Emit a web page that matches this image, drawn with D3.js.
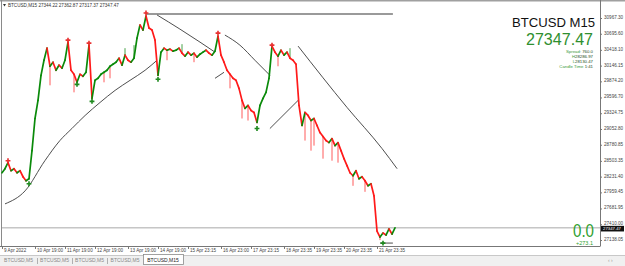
<!DOCTYPE html>
<html>
<head>
<meta charset="utf-8">
<script src="https://cdn.jsdelivr.net/npm/d3@7/dist/d3.min.js"></script>
<style>
html, body { margin: 0; padding: 0; background: #fff; }
svg { display: block; font-family: "Liberation Sans", Arial, sans-serif; }
</style>
</head>
<body>
<div id="canvas_btc"></div>
<script>
// ----------------------------------------------------------
// DATA -----------------------------------------------------
// ----------------------------------------------------------
// close prices, one per bar (bar index = position in array)
var close_btc = [
28298,28368,28472,28333,28368,28298,28333,28229,28160,28194,
28679,29234,29546,29979,30239,30447,30135,30205,30066,30153,
30101,30239,30551,30066,29997,29858,29997,29962,30031,30499,
29581,29893,29927,29997,30031,30066,30135,30170,30205,30274,
30153,30326,30239,30205,30274,30620,30846,30759,31002,30794,
30759,30586,29979,30378,30447,30412,30430,30395,30412,30447,
30361,30309,30378,30326,30361,30291,30343,30378,30412,30361,
30326,30395,30655,30326,30205,30066,29997,29927,29893,29754,
29546,29407,29459,29373,29338,29165,29459,29581,29685,29927,
30482,30378,30309,30412,30326,30378,30274,30239,30170,29459,
29113,29338,29286,29199,29234,29113,28991,28922,28853,28818,
28887,28766,28818,28679,28541,28420,28298,28246,28333,28194,
28229,28160,28073,28108,27900,27293,27189,27258,27224,27328,
27241,27347.47
];
var last_price_btc = 27347.47;

// wick extremes [bar index, price]
var wicks_btc = [
[16,29806],[24,29685],[34,29858],[36,29927],[41,30447],[44,30499],[55,30239],[60,30516],
[64,30205],[76,29754],[80,29234],[82,29199],[92,30135],[96,30447],[101,28853],[103,28679],
[104,28766],[107,28541],[110,28506],[112,28472],[117,28073],[121,27969],[126,27136]
];

// fractal markers [bar index, price]
var fractal_up_btc = [[2,28506],[22,30586],[29,30534],[48,31054],[72,30707],[90,30499]];
var fractal_down_btc = [[9,28108],[25,29823],[30,29529],[52,29910],[85,29061],[127,27085]];

// indicator line pieces [bar index, price]
var lines_btc = [
[[1,27761],[7.7,27986],[14.3,28506],[19.3,28853],[23.3,29061],[27.7,29286],[32.7,29511],[37.7,29719],[42.7,29893],[47.7,30066],[51.7,30239]],
[[51.7,31019],[59.3,30776],[66,30551],[71,30378]],
[[71,29927],[74,30031]],
[[74.3,30673],[79.3,30499],[84.3,30239],[89.3,29979]],
[[89.3,29061],[98.7,29546]],
[[98.7,30482],[115,29425],[126.7,28714],[131.7,28368]],
[[126,27085],[130.3,27085]]
];
var level_line_btc = [[48,31036],[130.3,31036]];

// axis ticks
var price_ticks_btc = [30967.30,30695.60,30418.10,30146.15,29874.20,29596.70,29324.75,29052.80,
28780.85,28503.35,28231.40,27959.45,27681.95,27410.00,27138.05];
var time_tick_index_btc = [0,11,21,31,42,52,62,73,83,94,104,114,125];
var time_tick_labels_btc = ["9 Apr 2022","10 Apr 19:00","11 Apr 19:00","12 Apr 19:00","13 Apr 19:00",
"14 Apr 19:00","15 Apr 23:15","16 Apr 23:00","17 Apr 23:15","18 Apr 23:35","19 Apr 23:35",
"20 Apr 23:35","21 Apr 23:35"];

// tabs
var tabs_btc = ["BTCUSD,M5","BTCUSD,M5","BTCUSD,M5","BTCUSD,M5","BTCUSD,M15"];

// ----------------------------------------------------------
// STRUCTURE ------------------------------------------------
// ----------------------------------------------------------
var W = 625, H = 266;
var plot_right = 600, plot_bottom = 246;

var svg_btc = d3.select("#canvas_btc").append("svg")
.attr("width", W)
.attr("height", H);

var xScale_btc = d3.scaleLinear()
.domain([0, close_btc.length - 1])
.range([2, 395]);

var yScale_btc = d3.scaleLinear()
.domain([27138.05, 30967.30])
.range([240, 18]);

// background, frame
svg_btc.append("rect").attr("width", W).attr("height", H).style("fill", "#fff");
svg_btc.append("rect")
.attr("x", 0).attr("y", 0).attr("width", W).attr("height", 1.5)
.style("fill", "#a0a0a0");
svg_btc.append("line")
.attr("x1", 1.5).attr("x2", 1.5).attr("y1", 0).attr("y2", plot_bottom)
.style("stroke", "#8a8a8a");

// ----------------------------------------------------------
// AXES -----------------------------------------------------
// ----------------------------------------------------------
var yAxis_btc = svg_btc.append("g")
.attr("transform", "translate(" + plot_right + ",0)")
.call(d3.axisRight(yScale_btc)
.tickValues(price_ticks_btc)
.tickSize(2)
.tickFormat(d3.format(".2f")));
yAxis_btc.select(".domain").attr("d", "M0.5,0V" + plot_bottom).style("stroke", "#777");
yAxis_btc.selectAll(".tick line").style("stroke", "#777");
yAxis_btc.selectAll(".tick text")
.attr("x", 4)
.attr("dy", "0.1em")
.style("font-size", "4.6px")
.style("fill", "#444");

var xAxis_btc = svg_btc.append("g")
.attr("transform", "translate(0," + plot_bottom + ")")
.call(d3.axisBottom(xScale_btc)
.tickValues(time_tick_index_btc)
.tickSize(3)
.tickFormat(function(d, i) { return time_tick_labels_btc[i]; }));
xAxis_btc.select(".domain").attr("d", "M0,0.5H" + (plot_right + 0.5)).style("stroke", "#777");
xAxis_btc.selectAll(".tick line").style("stroke", "#777");
xAxis_btc.selectAll(".tick text")
.attr("y", 3)
.attr("x", 1.5)
.attr("text-anchor", "start")
.style("font-size", "4.6px")
.style("fill", "#444");

// ----------------------------------------------------------
// GFX ------------------------------------------------------
// ----------------------------------------------------------
var gfx_btc = svg_btc.append("g").attr("class", "gfx");

// current price line
gfx_btc.append("line")
.attr("x1", 2).attr("x2", plot_right)
.attr("y1", yScale_btc(last_price_btc)).attr("y2", yScale_btc(last_price_btc))
.style("stroke", "#a8a8a8").style("stroke-width", 1);

// level line on top
gfx_btc.append("path")
.datum(level_line_btc)
.attr("d", d3.line()
.x(function(d) { return xScale_btc(d[0]); })
.y(function(d) { return yScale_btc(d[1]); }))
.style("fill", "none").style("stroke", "#9a9a9a").style("stroke-width", 2);

// indicator lines
var line_gen_btc = d3.line()
.curve(d3.curveMonotoneX)
.x(function(d) { return xScale_btc(d[0]); })
.y(function(d) { return yScale_btc(d[1]); });
gfx_btc.selectAll(".ind_line")
.data(lines_btc)
.enter()
.append("path")
.attr("class", "ind_line")
.attr("d", line_gen_btc)
.style("fill", "none").style("stroke", "#3a3a3a").style("stroke-width", 0.9);

// wicks
gfx_btc.selectAll(".wick")
.data(wicks_btc)
.enter()
.append("line")
.attr("class", "wick")
.attr("x1", function(d) { return xScale_btc(d[0]); })
.attr("x2", function(d) { return xScale_btc(d[0]); })
.attr("y1", function(d) { return yScale_btc(close_btc[d[0]]); })
.attr("y2", function(d) { return yScale_btc(d[1]); })
.style("stroke", function(d) { return d[1] < close_btc[d[0]] ? "#ff3030" : "#1a8a1a"; })
.style("stroke-width", 0.8);

// price segments, green up / red down
var seg_btc = d3.pairs(close_btc.map(function(v, i) { return [i, v]; }));
gfx_btc.selectAll(".seg")
.data(seg_btc)
.enter()
.append("line")
.attr("class", "seg")
.attr("x1", function(d) { return xScale_btc(d[0][0]); })
.attr("y1", function(d) { return yScale_btc(d[0][1]); })
.attr("x2", function(d) { return xScale_btc(d[1][0]); })
.attr("y2", function(d) { return yScale_btc(d[1][1]); })
.style("stroke", function(d) { return d[1][1] >= d[0][1] ? "#0a8a0a" : "#ff1a1a"; })
.style("stroke-width", 1.7)
.style("stroke-linecap", "round");

// fractal markers
var symbol_btc = d3.symbol().type(d3.symbolCross).size(13);
gfx_btc.selectAll(".fr_up")
.data(fractal_up_btc)
.enter()
.append("path")
.attr("transform", function(d) { return "translate(" + xScale_btc(d[0]) + "," + yScale_btc(d[1]) + ")"; })
.attr("d", symbol_btc)
.style("fill", "#e83030");
gfx_btc.selectAll(".fr_down")
.data(fractal_down_btc)
.enter()
.append("path")
.attr("transform", function(d) { return "translate(" + xScale_btc(d[0]) + "," + yScale_btc(d[1]) + ")"; })
.attr("d", symbol_btc)
.style("fill", "#1f8a1f");

// price label on axis
var py_btc = yScale_btc(last_price_btc);
svg_btc.append("rect")
.attr("x", plot_right + 1).attr("y", py_btc - 2)
.attr("width", 23).attr("height", 5.6)
.style("fill", "#111");
svg_btc.append("text")
.attr("x", plot_right + 3).attr("y", py_btc + 2.3)
.text(d3.format(".2f")(last_price_btc))
.style("font-size", "4.3px").style("fill", "#fff");

// ----------------------------------------------------------
// TEXT -----------------------------------------------------
// ----------------------------------------------------------
var text_btc = svg_btc.append("g").attr("class", "text_group");

text_btc.append("path")
.attr("d", "M3,4 L6,4 L4.5,6.5 Z").style("fill", "#333");
text_btc.append("text")
.attr("x", 8).attr("y", 6.5)
.text("BTCUSD,M15  27344.22 27362.87 27317.37 27347.47")
.style("font-size", "4.6px").style("fill", "#333");

text_btc.append("text")
.attr("x", 595).attr("y", 26.5)
.attr("text-anchor", "end")
.attr("textLength", 83).attr("lengthAdjust", "spacingAndGlyphs")
.text("BTCUSD M15")
.style("font-size", "13.5px").style("fill", "#111");

text_btc.append("text")
.attr("x", 593).attr("y", 45)
.attr("text-anchor", "end")
.attr("textLength", 67).attr("lengthAdjust", "spacingAndGlyphs")
.text(d3.format(".2f")(last_price_btc))
.style("font-size", "17px").style("fill", "#2f8f2f");

var info_btc = [["Spread: ", "760.0", 53], ["H", "28286.97", 57.9], ["L", "28130.47", 62.8], ["Candle Time  ", "1:41", 67.7]];
info_btc.forEach(function(r) {
  var t = text_btc.append("text")
  .attr("x", 593).attr("y", r[2])
  .attr("text-anchor", "end")
  .style("font-size", "4.3px");
  t.append("tspan").text(r[0]).style("fill", "#3a9a3a");
  t.append("tspan").text(r[1]).style("fill", "#1a4a1a");
});

text_btc.append("text")
.attr("x", 594).attr("y", 237)
.attr("text-anchor", "end")
.attr("textLength", 21).attr("lengthAdjust", "spacingAndGlyphs")
.text("0.0")
.style("font-size", "19px").style("fill", "#2f9f2f");
text_btc.append("text")
.attr("x", 593).attr("y", 244.5)
.attr("text-anchor", "end")
.text("+273.1")
.style("font-size", "5.5px").style("fill", "#2f9f2f");

// ----------------------------------------------------------
// TABS -----------------------------------------------------
// ----------------------------------------------------------
var tab_group_btc = svg_btc.append("g");
tab_group_btc.append("rect")
.attr("x", 0).attr("y", 255).attr("width", W).attr("height", 11)
.style("fill", "#f0f0f0");
tab_group_btc.append("line")
.attr("x1", 0).attr("x2", W).attr("y1", 255.5).attr("y2", 255.5)
.style("stroke", "#c8c8c8");
var tab_x_btc = [0, 37, 72, 107, 143, 183];
tabs_btc.forEach(function(t, i) {
  var active = i === tabs_btc.length - 1;
  if (active) {
    tab_group_btc.append("rect")
    .attr("x", tab_x_btc[i] + 0.5).attr("y", 254.5)
    .attr("width", tab_x_btc[i + 1] - tab_x_btc[i]).attr("height", 10)
    .style("fill", "#fff").style("stroke", "#8a8a8a").style("stroke-width", 0.8);
  } else if (i > 0) {
    tab_group_btc.append("line")
    .attr("x1", tab_x_btc[i] + 0.5).attr("x2", tab_x_btc[i] + 0.5)
    .attr("y1", 258).attr("y2", 264)
    .style("stroke", "#b0b0b0");
  }
  tab_group_btc.append("text")
  .attr("x", (tab_x_btc[i] + tab_x_btc[i + 1]) / 2)
  .attr("y", 261.5)
  .attr("text-anchor", "middle")
  .text(t)
  .style("font-size", "5px")
  .style("fill", active ? "#222" : "#888");
});
tab_group_btc.append("text")
.attr("x", 608).attr("y", 262).text("‹   ›")
.style("font-size", "5px").style("fill", "#999");
</script>
</body>
</html>
